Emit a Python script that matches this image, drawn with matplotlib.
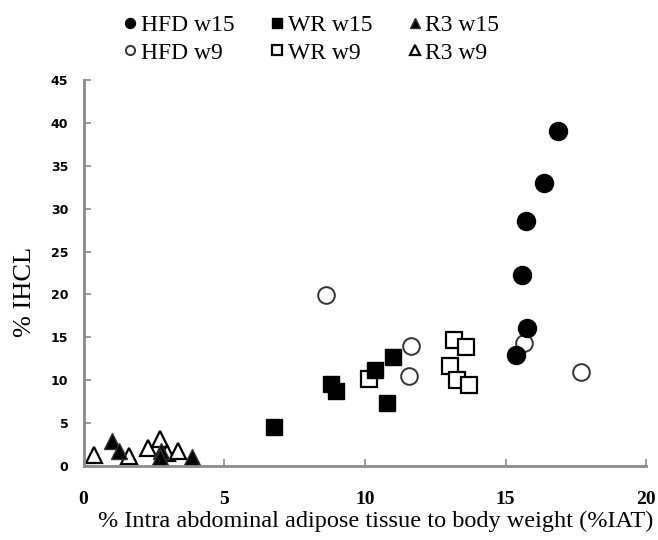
import numpy as np
import matplotlib
matplotlib.use("Agg")
import matplotlib.pyplot as plt

# % IAT (x) vs % IHCL (y)
hfd15_x = [16.88, 16.38, 15.73, 15.60, 15.78, 15.38]
hfd15_y = [39.1, 33.0, 28.5, 22.3, 16.1, 12.9]
hfd9_x = [8.62, 11.63, 11.58, 15.67, 17.67]
hfd9_y = [19.9, 14.0, 10.5, 14.3, 10.9]
wr15_x = [6.77, 8.80, 8.98, 10.36, 10.78, 11.00]
wr15_y = [4.5, 9.6, 8.7, 11.2, 7.4, 12.7]
wr9_x = [10.16, 13.18, 13.60, 13.03, 13.27, 13.70]
wr9_y = [10.1, 14.7, 13.9, 11.6, 10.0, 9.4]
r315_x = [1.00, 1.27, 2.74, 2.70, 3.85]
r315_y = [2.95, 1.8, 1.7, 1.0, 1.1]
r39_x = [0.38, 1.60, 2.28, 2.72, 2.96, 3.35]
r39_y = [1.3, 1.2, 2.1, 3.1, 1.5, 1.8]

xticks = [0, 5, 10, 15, 20]
yticks = [0, 5, 10, 15, 20, 25, 30, 35, 40, 45]

serif = "Liberation Serif"

fig = plt.figure(figsize=(6.58, 5.40), dpi=100)
ax = fig.add_axes([0.127, 0.137, 0.855, 0.715])

ms = 12
ax.plot(wr9_x, wr9_y, "s", ms=ms, mfc="white", mec="black", mew=1.6, ls="none", label="WR w9")
ax.plot(wr15_x, wr15_y, "s", ms=ms, mfc="black", mec="black", ls="none", label="WR w15")
ax.plot(hfd9_x, hfd9_y, "o", ms=ms, mfc="white", mec="#333333", mew=1.4, ls="none", label="HFD w9")
ax.plot(hfd15_x, hfd15_y, "o", ms=ms + 1, mfc="black", mec="black", ls="none", label="HFD w15")
ax.plot(r39_x, r39_y, "^", ms=ms, mfc="white", mec="black", mew=1.6, ls="none", label="R3 w9")
ax.plot(r315_x, r315_y, "^", ms=ms, mfc="black", mec="#333333", ls="none", label="R3 w15")

ax.set_xlim(0, 20)
ax.set_ylim(0, 45)
ax.set_xticks(xticks)
ax.set_yticks(yticks)

for s in ["top", "right"]:
    ax.spines[s].set_visible(False)
for s in ["left", "bottom"]:
    ax.spines[s].set_color("#8a8a8a")
    ax.spines[s].set_linewidth(2)

ax.tick_params(axis="both", direction="in", length=5, width=1.2, color="#8a8a8a")
ax.tick_params(axis="y", pad=11)
ax.tick_params(axis="x", pad=18)
for lab in ax.get_yticklabels():
    lab.set_fontfamily("DejaVu Sans")
    lab.set_fontweight("bold")
    lab.set_fontsize(9)
for lab in ax.get_xticklabels():
    lab.set_fontfamily(serif)
    lab.set_fontweight("bold")
    lab.set_fontsize(14)

ax.set_xlabel("% Intra abdominal adipose tissue to body weight (%IAT)",
              fontfamily=serif, fontsize=17.5, labelpad=2)
ax.xaxis.label.set_x(0.52)
ax.set_ylabel("% IHCL", fontfamily=serif, fontsize=19)
ax.yaxis.set_label_coords(-0.085, 0.45)

# legend: column order HFD, WR, R3 with w15 on the first row
h, l = ax.get_legend_handles_labels()
order = ["HFD w15", "HFD w9", "WR w15", "WR w9", "R3 w15", "R3 w9"]
hs = [h[l.index(o)] for o in order]
fig.legend(hs, order, ncol=3, loc="upper left", bbox_to_anchor=(0.155, 1.012),
           frameon=False, prop={"family": serif, "size": 17},
           markerscale=0.55, handlelength=0.6, handletextpad=0.15,
           columnspacing=1.5, labelspacing=0.25)

fig.savefig("out.png", dpi=100)
